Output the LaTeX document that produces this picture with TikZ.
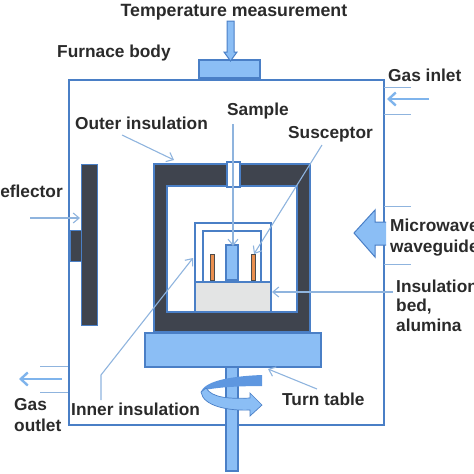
\documentclass[tikz,border=0pt]{standalone}
\usepackage{fontspec}
\setmainfont{Liberation Sans}
\usetikzlibrary{arrows.meta}
\definecolor{bfill}{HTML}{8BBEF5}
\definecolor{bline}{HTML}{4A7FC6}
\definecolor{lead}{HTML}{8FB4DE}
\definecolor{darkins}{HTML}{3F444E}
\definecolor{bedgray}{HTML}{E3E4E4}
\definecolor{sus}{HTML}{EB8F4F}
\definecolor{txt}{HTML}{2A2A2A}
\definecolor{rotdark}{HTML}{5E97E0}
\definecolor{gasc}{HTML}{7FB4EC}
\tikzset{
 lbl/.style={inner sep=0pt,anchor=base west,text=txt,font=\fontsize{17.3}{20}\selectfont\bfseries},
 solid box/.style={draw=bline,line width=1.6pt},
 leader/.style={draw=lead,line width=1.1pt},
 leadarrow/.style={leader,-{Straight Barb[length=6pt,width=10pt,line width=1.1pt]}},
 gasarrow/.style={draw=gasc,line width=2.6pt,-{Straight Barb[length=7pt,width=13pt,line width=2.4pt]}},
}
\begin{document}
\begin{tikzpicture}[x=1pt,y=-1pt]
\useasboundingbox (0,0) rectangle (474,474);
\clip (0,0) rectangle (474,474);
% furnace body
\node[solid box,line width=2pt,minimum width=315pt,minimum height=345pt,inner sep=0pt,anchor=north west] (body) at (68,79) {};
\node[solid box,fill=bfill,minimum width=61pt,minimum height=18pt,inner sep=0pt,anchor=south] (sensor) at (229.5,79) {};
% temperature arrow
\fill[bfill,draw=bline,line width=1pt] (227,21)--(234,21)--(234,52)--(237,52)--(230.5,61)--(224,52)--(227,52)--cycle;
% outer insulation
\path[fill=darkins,draw=bline,line width=1.6pt,even odd rule] (154,164) rectangle (310,332) (167,186) rectangle (297,312);
\node[solid box,fill=white,minimum width=13pt,minimum height=25pt,inner sep=0pt] (gap) at (233.5,174.5) {};
% inner insulation
\node[solid box,minimum width=76pt,minimum height=89pt,inner sep=0pt,anchor=north west] (inner) at (194,222) {};
\draw[bline,line width=1.6pt] (203,281)--(203,231)--(261,231)--(261,281);
\node[solid box,fill=bedgray,minimum width=76pt,minimum height=30pt,inner sep=0pt,anchor=north west] (bed) at (194,281) {};
\node[solid box,fill=bfill,minimum width=12pt,minimum height=35pt,inner sep=0pt,anchor=south] (sample) at (232,281) {};
\node[draw=black!70,line width=.8pt,fill=sus,minimum width=4pt,minimum height=26pt,inner sep=0pt,anchor=south] (susL) at (212,281) {};
\node[draw=black!70,line width=.8pt,fill=sus,minimum width=4pt,minimum height=26pt,inner sep=0pt,anchor=south] (susR) at (253,281) {};
% reflector
\node[draw=bline,line width=.8pt,fill=darkins,minimum width=16pt,minimum height=161pt,inner sep=0pt,anchor=north west] (refl) at (81,164) {};
\node[draw=bline,line width=.8pt,fill=darkins,minimum width=11pt,minimum height=31pt,inner sep=0pt,anchor=north west] (reflb) at (70,230) {};
% shaft and table
\node[solid box,fill=bfill,minimum width=12pt,minimum height=104pt,inner sep=0pt,anchor=north] (shaft) at (232,366) {};
\node[solid box,fill=bfill,minimum width=176pt,minimum height=34pt,inner sep=0pt,anchor=north west] (table) at (144,332) {};
% rotation arrow
\fill[rotdark] (262,375) .. controls (235,376) and (205,380) .. (201,392) .. controls (205,388) and (235,386) .. (262,386) -- cycle;
\path[fill=bfill,draw=bline,line width=.7pt] (201,392) .. controls (203,406) and (228,411) .. (250,410) -- (250,416) -- (262,405) -- (250,393) -- (250,398) .. controls (230,399) and (212,398) .. (206,388) -- cycle;
% microwave
\fill[bfill,draw=bline,line width=1pt] (386,222)--(375,222)--(375,210)--(354,233)--(375,257)--(375,245)--(386,245);
% gas
\draw[gasarrow] (429,99)--(387,99);
\draw[gasarrow] (62,379)--(19,379);
% tick lines
\foreach \n/\a/\b/\y in {a/384/411/87,b/384/411/114,c/384/411/206,d/384/411/264,e/40/68/366,f/40/68/392}
  \draw[leader,line width=.8pt] (\a,\y)--(\b,\y);
% labels
\node[lbl,font=\fontsize{17.75}{20}\selectfont\bfseries] (ltemp) at (120.5,16) {Temperature measurement};
\node[lbl] (lfurn) at (57,57) {Furnace body};
\node[lbl] (lout) at (75,129) {Outer insulation};
\node[lbl] (lsamp) at (227,115) {Sample};
\node[lbl] (lsusc) at (288,138) {Susceptor};
\node[lbl] (lgas) at (388,81) {Gas inlet};
\node[lbl,anchor=base east] (lrefl) at (63,197) {Reflector};
\node[lbl] (lmw) at (390,231) {Microwave};
\node[lbl] (lwg) at (390,252) {waveguide};
\node[lbl] (lins) at (396,292) {Insulation};
\node[lbl] (lbd) at (396,311) {bed,};
\node[lbl] (lal) at (396,331) {alumina};
\node[lbl] (lgo) at (14,410) {Gas};
\node[lbl] (lou) at (14,431) {outlet};
\node[lbl] (linn) at (71,415) {Inner insulation};
\node[lbl] (lturn) at (282,405) {Turn table};
% leaders
\coordinate (a1) at (233,124); \coordinate (a2) at (233,246);
\draw[leadarrow] (a1)--(a2);
\coordinate (b1) at (122,135); \coordinate (b2) at (174,160);
\draw[leadarrow] (b1)--(b2);
\coordinate (c1) at (322,145); \coordinate (c2) at (254,254);
\draw[leadarrow] (c1)--(c2);
\coordinate (d0) at (101,400); \coordinate (d1) at (101,375); \coordinate (d2) at (193,258);
\draw[leadarrow] (d0)--(d1)--(d2);
\coordinate (e1) at (393,292); \coordinate (e2) at (272,292);
\draw[leadarrow] (e1)--(e2);
\coordinate (f1) at (317,389); \coordinate (f2) at (268,369);
\draw[leadarrow] (f1)--(f2);
\coordinate (g1) at (30,218); \coordinate (g2) at (80,218);
\draw[leadarrow] (g1)--(g2);
\end{tikzpicture}
\end{document}
